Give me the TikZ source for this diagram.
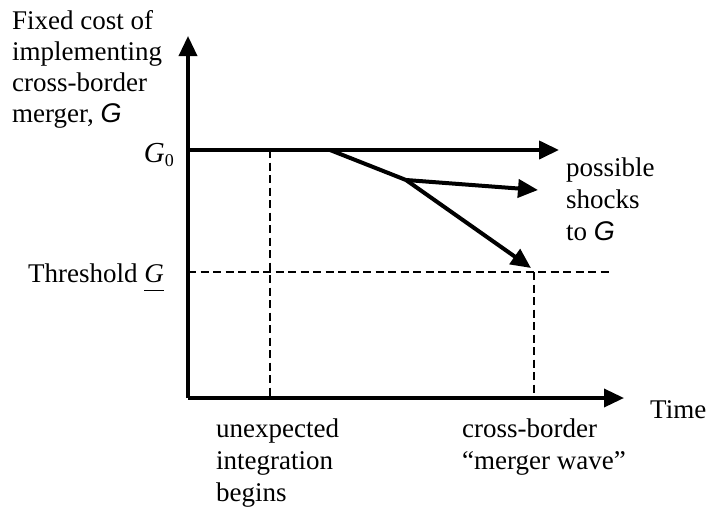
\documentclass[tikz,border=0pt]{standalone}
\usepackage{fontspec}
\setmainfont{Liberation Serif}
\newfontfamily\arialfont{Liberation Sans}
\usetikzlibrary{arrows.meta}
\newcommand{\lowunderline}[1]{{\setbox0\hbox{#1}\rlap{\rule[-9pt]{\wd0}{1.2pt}}\box0}}
\begin{document}
\begin{tikzpicture}[x=1pt,y=-1pt,
  axis line/.style={line width=3.5pt},
  thick line/.style={line width=4pt},
  tip/.style={-{Triangle[length=20pt,width=18pt]}},
  guide/.style={line width=2.4pt,dash pattern=on 8pt off 4.5pt},
  lbl/.style={inner sep=0pt,font=\fontsize{27}{31}\selectfont,align=left},
  lbltwo/.style={inner sep=0pt,font=\fontsize{27}{32}\selectfont,align=left},
  biglbl/.style={inner sep=0pt,font=\fontsize{29}{34}\selectfont}]
\useasboundingbox (0,0) rectangle (708,509);
% axes
\coordinate (O) at (188,398);
\coordinate (ytop) at (188,36);
\coordinate (xend) at (624,398);
\draw[axis line,tip] (O) -- (ytop);
\draw[axis line,tip] (O) -- (xend);
% G0 line and branches
\coordinate (g0) at (188,150);
\coordinate (g0end) at (559,150);
\coordinate (b1) at (330,150);
\coordinate (b2) at (406,180);
\coordinate (s1) at (538,190);
\coordinate (s2) at (531,268);
\draw[thick line,tip] (g0) -- (g0end);
\draw[thick line] (b1) -- (b2);
\draw[thick line,tip] (b2) -- (s1);
\draw[thick line,tip] (b2) -- (s2);
% dashed guides
\coordinate (th0) at (188,272);
\coordinate (th1) at (609,272);
\coordinate (v1t) at (270,150);
\coordinate (v1b) at (270,398);
\coordinate (v2t) at (534,272);
\coordinate (v2b) at (534,398);
\draw[guide] (th0) -- (th1);
\draw[guide] (v1t) -- (v1b);
\draw[guide] (v2t) -- (v2b);
% labels
\node[lbl,anchor=base west] (ylab) at (12,122) {Fixed cost of\\implementing\\cross-border\\merger, {\arialfont\itshape G}};
\node[biglbl,anchor=base east] (g0lab) at (174,162) {\textit{G}\raisebox{-4pt}{\fontsize{18}{20}\selectfont 0}};
\node[lbl,anchor=base east] (thlab) at (164,282) {Threshold \lowunderline{\textit{G}}};
\node[lbltwo,anchor=base west] (shock) at (566,240) {possible\\shocks\\to {\arialfont\itshape G}};
\node[lbl,anchor=base west] (time) at (650,418) {Time};
\node[lbltwo,anchor=base west] (unexp) at (216,501) {unexpected\\integration\\begins};
\node[lbltwo,anchor=base west] (wave) at (462,469) {cross-border\\``merger wave''};
\end{tikzpicture}
\end{document}
